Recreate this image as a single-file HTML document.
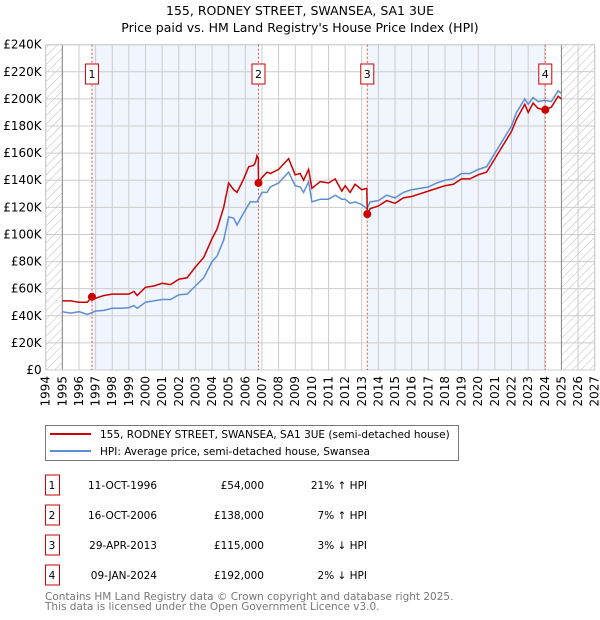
<!DOCTYPE html>
<html><head><meta charset="utf-8"><style>
body{margin:0;background:#fff;}
svg{display:block;font-family:"DejaVu Sans","Liberation Sans",sans-serif;}
</style></head><body>
<svg id="chart" width="600" height="620" viewBox="0 0 600 620">
<defs>
<pattern id="hatch" patternUnits="userSpaceOnUse" width="6" height="6" patternTransform="rotate(45)">
<rect width="6" height="6" fill="#fff"/><line x1="0" y1="0" x2="0" y2="6" stroke="#bbb" stroke-width="1"/>
</pattern>
</defs>
<text x="300" y="15" text-anchor="middle" font-size="12.5">155, RODNEY STREET, SWANSEA, SA1 3UE</text>
<text x="300" y="32" text-anchor="middle" font-size="12.5">Price paid vs. HM Land Registry's House Price Index (HPI)</text>
<g id="plot"></g>
<g>
<rect x="45.5" y="425.5" width="413" height="35" fill="#fff" stroke="#777"/>
<line x1="50" y1="434" x2="91" y2="434" stroke="#cc0000" stroke-width="2"/>
<text x="100" y="438" font-size="10.5">155, RODNEY STREET, SWANSEA, SA1 3UE (semi-detached house)</text>
<line x1="50" y1="451" x2="91" y2="451" stroke="#5b8fd4" stroke-width="2"/>
<text x="100" y="455" font-size="10.5">HPI: Average price, semi-detached house, Swansea</text>
</g>
<g id="table" font-size="10.5"></g>
<text x="45" y="600" font-size="10.5" fill="#777">Contains HM Land Registry data © Crown copyright and database right 2025.</text>
<text x="45" y="610" font-size="10.5" fill="#777">This data is licensed under the Open Government Licence v3.0.</text>
</svg>
<script>
const hpiYears=[1995,1995.5,1996,1996.5,1997,1997.5,1998,1998.5,1999,1999.3,1999.5,2000,2000.5,2001,2001.5,2002,2002.5,2003,2003.5,2004,2004.3,2004.7,2005,2005.3,2005.5,2005.9,2006.3,2006.7,2007,2007.3,2007.5,2008,2008.6,2009,2009.3,2009.5,2009.8,2010,2010.5,2011,2011.4,2011.8,2012,2012.3,2012.6,2013,2013.3,2013.5,2014,2014.5,2015,2015.5,2016,2016.5,2017,2017.5,2018,2018.5,2019,2019.5,2020,2020.5,2021,2021.5,2022,2022.3,2022.8,2023,2023.3,2023.6,2024,2024.4,2024.8,2025];
const hpiValues=[43,42,43,41,43.5,44,45.5,45.5,46,47.5,45.5,50,51,52,52,55.5,56,62,68,80,84,96,113,112,107,116,124,124,131,131,135,138,146,136,135,131,139,124,126,126,129,126,126,123,124,122,119,124,125,129,127,131,133,134,135,138,140,141,145,145,148,150,160,170,180,190,200,196,201,198,199,198,206,204];
const priceYears=[1995,1995.5,1996,1996.5,1996.78,1997,1997.5,1998,1999,1999.3,1999.5,2000,2000.5,2001,2001.5,2002,2002.5,2003,2003.5,2004,2004.3,2004.7,2005,2005.3,2005.5,2005.9,2006.2,2006.5,2006.6,2006.7,2006.78,2006.79,2007,2007.3,2007.5,2008,2008.6,2009,2009.3,2009.5,2009.8,2010,2010.5,2011,2011.4,2011.8,2012,2012.3,2012.6,2013,2013.3,2013.33,2013.5,2014,2014.5,2015,2015.5,2016,2016.5,2017,2017.5,2018,2018.5,2019,2019.5,2020,2020.5,2021,2021.5,2022,2022.3,2022.8,2023,2023.3,2023.6,2024.03,2024.4,2024.8,2025];
const priceValues=[51,51,50,50,54,53,55,56,56,58,55,61,62,64,63,67,68,76,83,97,104,120,138,133,131,141,150,151,153,158,156,138,142,146,145,148,156,144,145,140,148,134,139,138,141,132,136,131,137,133,134,115,119,121,125,123,127,128,130,132,134,136,137,141,141,144,146,156,166,176,185,196,190,197,193,192,194,202,200];
const saleLabels=["1","2","3","4"];
const saleYears=[1996.78,2006.79,2013.33,2024.03];
const saleValues=[54,138,115,192];
const saleDates=["11-OCT-1996","16-OCT-2006","29-APR-2013","09-JAN-2024"];
const salePrices=["£54,000","£138,000","£115,000","£192,000"];
const saleDiffs=["21% ↑ HPI","7% ↑ HPI","3% ↓ HPI","2% ↓ HPI"];
const yTicks=[0,20,40,60,80,100,120,140,160,180,200,220,240];
const yTickLabels=["£0","£20K","£40K","£60K","£80K","£100K","£120K","£140K","£160K","£180K","£200K","£220K","£240K"];
const xTicks=[1994,1995,1996,1997,1998,1999,2000,2001,2002,2003,2004,2005,2006,2007,2008,2009,2010,2011,2012,2013,2014,2015,2016,2017,2018,2019,2020,2021,2022,2023,2024,2025,2026,2027];

const X0=45.7,X1=594.7,Y0=370,Y1=44.7;
const xs=y=>X0+(y-1994)/(2027-1994)*(X1-X0);
const ys=v=>Y0-v/240*(Y0-Y1);
const NS="http://www.w3.org/2000/svg";
const plot=document.getElementById('plot');
function mk(tag,attrs,parent){const e=document.createElementNS(NS,tag);for(const k in attrs)e.setAttribute(k,attrs[k]);(parent||plot).appendChild(e);return e;}

let r=mk('rect',{x:X0,y:Y1,width:X1-X0,height:Y0-Y1,fill:'#fff'});


for(let i=0;i<saleYears.length;i+=2){
  const b=mk('rect',{x:xs(saleYears[i]),y:Y1,width:xs(saleYears[i+1])-xs(saleYears[i]),height:Y0-Y1,fill:'#eef3fc',opacity:0.8});
  
  
}
let h1=mk('rect',{x:X0,y:Y1,width:xs(1995)-X0,height:Y0-Y1,fill:'url(#hatch)'});


let h2=mk('rect',{x:xs(2025),y:Y1,width:X1-xs(2025),height:Y0-Y1,fill:'url(#hatch)'});


xTicks.forEach(t=>{const l=mk('line',{x1:xs(t),x2:xs(t),y1:Y1,y2:Y0,stroke:'#ccc','stroke-width':1});

});
yTicks.forEach((t,i)=>{const l=mk('line',{x1:X0,x2:X1,y1:ys(t),y2:ys(t),stroke:'#ccc','stroke-width':1});


const tx=mk('text',{x:X0-4,y:ys(t)+4,'text-anchor':'end','font-size':12});tx.textContent=yTickLabels[i];

});
xTicks.forEach(t=>{const tx=mk('text',{transform:`translate(${xs(t)+4},376) rotate(-90)`,'text-anchor':'end','font-size':12});tx.textContent=t;

});
[1995,2025].forEach(t=>{const l=mk('line',{x1:xs(t),x2:xs(t),y1:Y1,y2:Y0,stroke:'#888','stroke-width':1});

});
let fr=mk('rect',{x:X0,y:Y1,width:X1-X0,height:Y0-Y1,fill:'none',stroke:'#ccc'});


saleYears.forEach((s,i)=>{
  const l=mk('line',{x1:xs(s),x2:xs(s),y1:Y1,y2:Y0,stroke:'#e05050','stroke-width':1,'stroke-dasharray':'2,2'});
  
  
  const b=mk('rect',{x:xs(s)-6.5,y:64,width:13,height:20,fill:'#fff',stroke:'#cc0000'});
  
  
  const t=mk('text',{x:xs(s),y:78,'text-anchor':'middle','font-size':11});t.textContent=saleLabels[i];
  
  
});
const pth=(xa,va)=>xa.map((x,i)=>(i?'L':'M')+xs(x).toFixed(1)+','+ys(va[i]).toFixed(1)).join('');
let hl=mk('path',{d:pth(hpiYears,hpiValues),fill:'none',stroke:'#5b8fd4','stroke-width':1.5});


let pl=mk('path',{d:pth(priceYears,priceValues),fill:'none',stroke:'#cc0000','stroke-width':1.5});


saleYears.forEach((s,i)=>{const c=mk('circle',{cx:xs(s),cy:ys(saleValues[i]),r:4,fill:'#cc0000'});

});

const tb=document.getElementById('table');
saleYears.forEach((s,i)=>{
  const cy=485+i*30;
  const b=mk('rect',{x:45.5,y:cy-10,width:14,height:20,fill:'#fff',stroke:'#cc0000'},tb);
  
  
  const cells=[[52,'middle',saleLabels[i]],[157,'end',saleDates[i]],[264,'end',salePrices[i]],[367,'end',saleDiffs[i]]];
  cells.forEach(c=>{const t=mk('text',{x:c[0],y:cy+4,'text-anchor':c[1]},tb);t.textContent=c[2];
  
  });
});
</script>
</body></html>
